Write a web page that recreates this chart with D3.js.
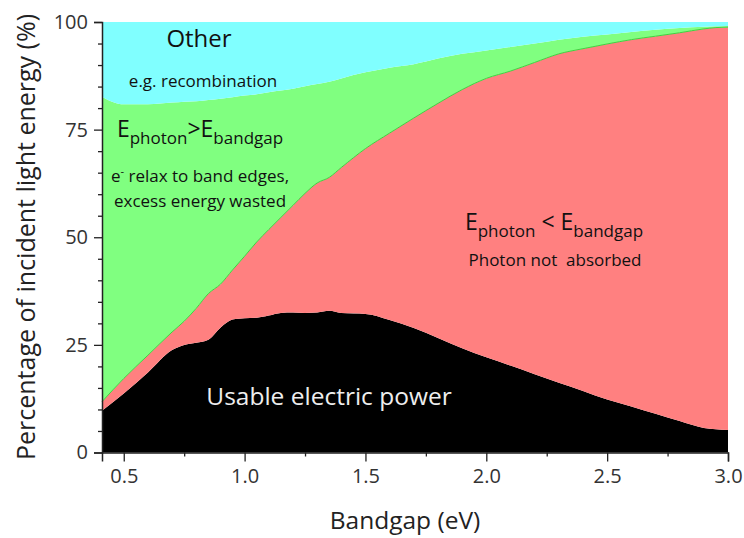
<!DOCTYPE html>
<html>
<head>
<meta charset="utf-8">
<script src="https://cdn.jsdelivr.net/npm/d3@7"></script>
<style>
  body { margin: 0; background: #fff; }
  text { font-family: 'Open Sans', sans-serif; }
</style>
</head>
<body>
<script>
// values (percent of incident light energy)
const bandgap = [0.41, 0.5, 0.6, 0.7, 0.75, 0.8, 0.85, 0.9, 0.95, 1.0, 1.05, 1.1, 1.15, 1.2, 1.25, 1.3, 1.35, 1.4,
  1.5, 1.6, 1.7, 1.8, 1.9, 2.0, 2.1, 2.2, 2.3, 2.4, 2.5, 2.6, 2.7, 2.8, 2.9, 2.95, 3.0]
const usablePower = [9.7, 13.7, 18.6, 23.8, 25.0, 25.5, 26.2, 29.0, 30.9, 31.2, 31.3, 31.8, 32.4, 32.5, 32.4, 32.5, 32.9, 32.4,
  32.2, 30.8, 28.9, 26.6, 24.2, 22.1, 20.2, 18.2, 16.2, 14.3, 12.3, 10.7, 9.0, 7.3, 5.7, 5.4, 5.2]
const notAbsorbed = [2.1, 3.5, 4.0, 4.2, 5.5, 8.0, 10.7, 10.1, 11.5, 14.4, 17.6, 20.0, 22.2, 24.9, 27.8, 30.1, 31.0, 33.8,
  38.4, 43.4, 48.8, 54.5, 60.1, 64.8, 68.4, 72.4, 76.4, 79.5, 82.6, 85.2, 87.7, 90.2, 92.7, 93.3, 93.6]
const excessWasted = [70.8, 63.7, 58.3, 53.3, 51.0, 48.1, 45.0, 43.1, 40.1, 37.3, 34.3, 31.9, 29.5, 27.1, 24.9, 23.0, 22.2, 20.7,
  17.7, 15.2, 12.5, 10.4, 8.3, 6.5, 5.6, 4.4, 3.3, 2.8, 2.2, 1.8, 1.5, 1.1, 0.5, 0.3, 0.3]
const otherLoss = [17.4, 19.1, 19.1, 18.7, 18.5, 18.4, 18.1, 17.8, 17.5, 17.1, 16.8, 16.3, 15.9, 15.5, 14.9, 14.4, 13.9, 13.1,
  11.7, 10.6, 9.8, 8.5, 7.4, 6.6, 5.8, 5.0, 4.1, 3.4, 2.9, 2.3, 1.8, 1.4, 1.1, 1.0, 0.9]

const xTicks = [0.5, 1.0, 1.5, 2.0, 2.5, 3.0]
const xMinorTicks = [0.75, 1.25, 1.75, 2.25, 2.75]
const yTicks = [0, 25, 50, 75, 100]
const yMinorTicks = [5, 10, 15, 20, 30, 35, 40, 45, 55, 60, 65, 70, 80, 85, 90, 95]

const keys = ['usable', 'notAbsorbed', 'wasted', 'other']
const colors = {usable: '#000000', notAbsorbed: '#ff8080', wasted: '#80ff80', other: '#80ffff'}

const rows = bandgap.map((b, i) => ({
  bandgap: b,
  usable: usablePower[i],
  notAbsorbed: notAbsorbed[i],
  wasted: excessWasted[i],
  other: otherLoss[i]
}))

const width = 744
const height = 538

const svg = d3.select('body')
  .append('svg')
  .attr('width', width)
  .attr('height', height)

const x = d3.scaleLinear().domain([0.41, 3.0]).range([102, 728])
const y = d3.scaleLinear().domain([0, 100]).range([452.5, 22])

const stacked = d3.stack().keys(keys)(rows)

const area = d3.area()
  .x(d => x(d.data.bandgap))
  .y0(d => y(d[0]))
  .y1(d => y(d[1]))
  .curve(d3.curveMonotoneX)

svg.append('g')
  .selectAll('path')
  .data(stacked)
  .enter()
  .append('path')
  .attr('d', area)
  .attr('fill', d => colors[d.key])

// thin darker edge on the red / green boundary
svg.append('path')
  .datum(stacked[1])
  .attr('d', d3.line().x(d => x(d.data.bandgap)).y(d => y(d[1])).curve(d3.curveMonotoneX))
  .attr('fill', 'none')
  .attr('stroke', '#40d040')
  .attr('stroke-width', 1)

// axes
const axisColor = '#222'
svg.append('g')
  .attr('transform', `translate(0, ${y(0)})`)
  .call(d3.axisBottom(x).tickValues(xTicks).tickFormat(d3.format('.1f')).tickSize(9).tickPadding(7))
svg.append('g')
  .attr('transform', `translate(0, ${y(0)})`)
  .call(d3.axisBottom(x).tickValues(xMinorTicks).tickFormat('').tickSize(4))
  .select('.domain').remove()

svg.append('g')
  .attr('transform', `translate(${x(0.41)}, 0)`)
  .call(d3.axisLeft(y).tickValues(yTicks).tickSize(8).tickPadding(6))
svg.append('g')
  .attr('transform', `translate(${x(0.41)}, 0)`)
  .call(d3.axisLeft(y).tickValues(yMinorTicks).tickFormat('').tickSize(4))
  .select('.domain').remove()

svg.selectAll('.domain').attr('stroke', axisColor).attr('stroke-width', 1.5)
svg.selectAll('.tick line').attr('stroke', axisColor).attr('stroke-width', 1.3)
svg.selectAll('.tick text')
  .attr('font-family', "'Open Sans', sans-serif")
  .attr('font-size', 20)
  .attr('fill', '#333')

// axis titles
svg.append('text')
  .attr('x', 405)
  .attr('y', 529)
  .attr('text-anchor', 'middle')
  .attr('font-size', 24.5)
  .attr('fill', '#222')
  .text('Bandgap (eV)')

svg.append('text')
  .attr('transform', `translate(35, 237) rotate(-90)`)
  .attr('text-anchor', 'middle')
  .attr('font-size', 25)
  .attr('fill', '#222')
  .text('Percentage of incident light energy (%)')

// annotations
const note = (tx, ty, size, str, fill) => svg.append('text')
  .attr('x', tx)
  .attr('y', ty)
  .attr('text-anchor', 'middle')
  .attr('font-size', size)
  .attr('fill', fill || '#111')
  .style('white-space', 'pre')
  .text(str)

note(199, 47, 24, 'Other')
note(203, 87, 17, 'e.g. recombination')

const energyLabel = (tx, ty, sign) => {
  const t = svg.append('text')
    .attr('x', tx)
    .attr('y', ty)
    .attr('text-anchor', 'middle')
    .attr('font-size', 23)
    .attr('fill', '#111')
  t.append('tspan').text('E')
  t.append('tspan').attr('font-size', 17).attr('dy', 7).text('photon')
  t.append('tspan').attr('dy', -7).text(sign + 'E')
  t.append('tspan').attr('font-size', 17).attr('dy', 7).text('bandgap')
}
energyLabel(200, 137, '>')
energyLabel(554, 230, ' < ')

const relax = svg.append('text')
  .attr('x', 200)
  .attr('y', 182)
  .attr('text-anchor', 'middle')
  .attr('font-size', 17)
  .attr('fill', '#111')
relax.append('tspan').text('e')
relax.append('tspan').attr('font-size', 11).attr('dy', -7).text('-')
relax.append('tspan').attr('dy', 7).text(' relax to band edges,')
note(200, 207, 17, 'excess energy wasted')
note(555, 266, 17, 'Photon not  absorbed')
note(329, 405, 24.5, 'Usable electric power', '#eeeeee')
</script>
</body>
</html>
